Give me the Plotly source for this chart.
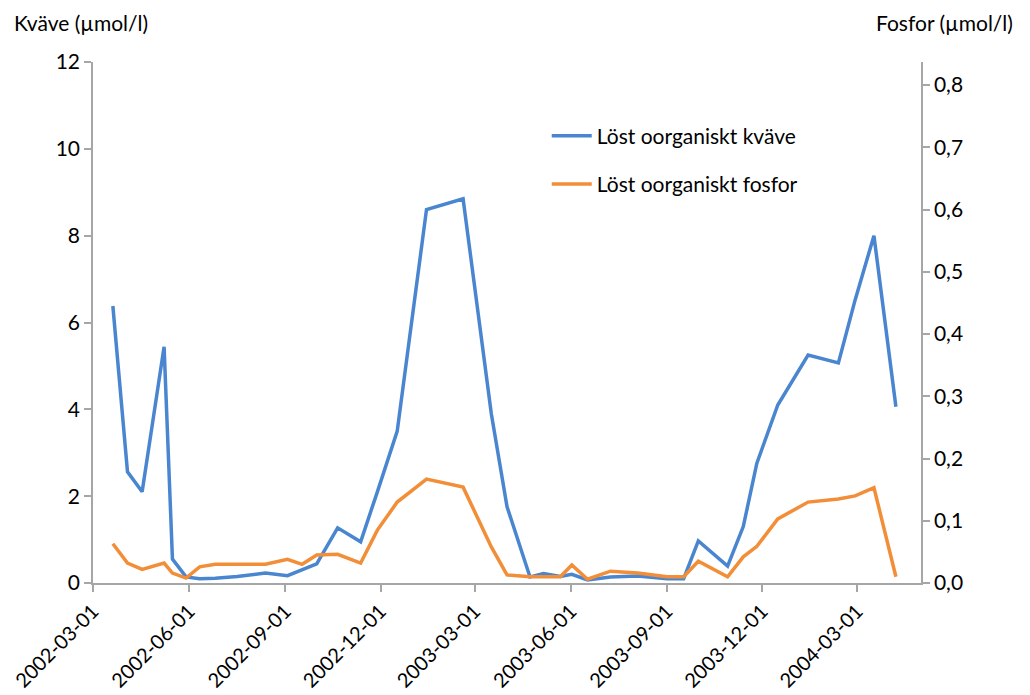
import plotly.graph_objects as go

# Sampling dates
dates = [
    "2002-03-20", "2002-04-03", "2002-04-17", "2002-05-08", "2002-05-16",
    "2002-05-29", "2002-06-11", "2002-06-26", "2002-07-17", "2002-08-13",
    "2002-09-03", "2002-09-17", "2002-10-01", "2002-10-21", "2002-11-12",
    "2002-11-28", "2002-12-17", "2003-01-14", "2003-02-18", "2003-03-17",
    "2003-04-01", "2003-04-23", "2003-05-06", "2003-05-22", "2003-06-02",
    "2003-06-17", "2003-07-09", "2003-08-04", "2003-09-01", "2003-09-17",
    "2003-10-01", "2003-10-29", "2003-11-13", "2003-11-26", "2003-12-16",
    "2004-01-14", "2004-02-12", "2004-02-28", "2004-03-17", "2004-04-07",
]

# Dissolved organic nitrogen (µmol/l)
kvave = [
    6.38, 2.56, 2.10, 5.44, 0.55,
    0.14, 0.10, 0.11, 0.15, 0.23,
    0.17, 0.30, 0.44, 1.27, 0.95,
    2.10, 3.50, 8.60, 8.85, 3.90,
    1.76, 0.14, 0.22, 0.15, 0.20,
    0.07, 0.14, 0.16, 0.10, 0.10,
    0.97, 0.39, 1.30, 2.76, 4.10,
    5.25, 5.07, 6.52, 8.00, 4.06,
]

# Dissolved organic phosphorus (µmol/l)
fosfor = [
    0.063, 0.032, 0.022, 0.032, 0.016,
    0.008, 0.026, 0.030, 0.030, 0.030,
    0.038, 0.030, 0.045, 0.046, 0.032,
    0.085, 0.130, 0.167, 0.154, 0.058,
    0.013, 0.010, 0.010, 0.010, 0.029,
    0.006, 0.019, 0.016, 0.010, 0.010,
    0.035, 0.010, 0.042, 0.059, 0.103,
    0.130, 0.135, 0.140, 0.153, 0.010,
]

x_ticks = ["2002-03-01", "2002-06-01", "2002-09-01", "2002-12-01", "2003-03-01",
           "2003-06-01", "2003-09-01", "2003-12-01", "2004-03-01"]
left_ticks = [0, 2, 4, 6, 8, 10, 12]
right_ticks = [0.0, 0.1, 0.2, 0.3, 0.4, 0.5, 0.6, 0.7, 0.8]

BLUE = "#4A86D0"
ORANGE = "#F28E38"
AXIS = "#A6A6A6"
FONT = "Lato, 'Open Sans', sans-serif"
FS = 21

fig = go.Figure()
fig.add_trace(go.Scatter(x=dates, y=kvave, mode="lines", name="Löst oorganiskt kväve",
                         legendgroup="n", line=dict(color=BLUE, width=3.5), yaxis="y"))
fig.add_trace(go.Scatter(x=dates, y=fosfor, mode="lines", name="Löst oorganiskt fosfor",
                         legendgroup="p", line=dict(color=ORANGE, width=3.5), yaxis="y2"))

axis_style = dict(
    showgrid=False, zeroline=False, automargin=False,
    showline=True, linecolor=AXIS, linewidth=1.5,
    ticks="outside", ticklen=7, tickcolor=AXIS, tickwidth=1.5,
)

fig.update_layout(
    width=1030, height=695,
    margin=dict(l=93, r=109, t=62, b=112),
    paper_bgcolor="white", plot_bgcolor="white",
    font=dict(family=FONT, size=FS, color="#000000"),
    separators=", ",
    showlegend=True,
    legend=dict(x=0.548, y=0.897, xanchor="left", yanchor="top",
                bgcolor="rgba(0,0,0,0)", font=dict(size=FS),
                traceorder="grouped", tracegroupgap=18, itemwidth=40),
    xaxis=dict(
        type="date", range=["2002-03-01", "2004-05-01"],
        tickvals=x_ticks, ticktext=x_ticks, tickangle=-45,
        tickfont=dict(size=20),
        **axis_style,
    ),
    yaxis=dict(range=[0, 12], tickvals=left_ticks, **axis_style),
    yaxis2=dict(
        overlaying="y", side="right",
        range=[0, 0.837], tickvals=right_ticks, tickformat=".1f",
        **axis_style,
    ),
    annotations=[
        dict(text="Kväve (µmol/l)", xref="paper", yref="paper",
             x=-81 / 828, y=1, yshift=40, xanchor="left", yanchor="middle",
             showarrow=False, font=dict(size=FS)),
        dict(text="Fosfor (µmol/l)", xref="paper", yref="paper",
             x=1 + 94 / 828, y=1, yshift=40, xanchor="right", yanchor="middle",
             showarrow=False, font=dict(size=FS)),
    ],
)

fig.write_html("out.html")
